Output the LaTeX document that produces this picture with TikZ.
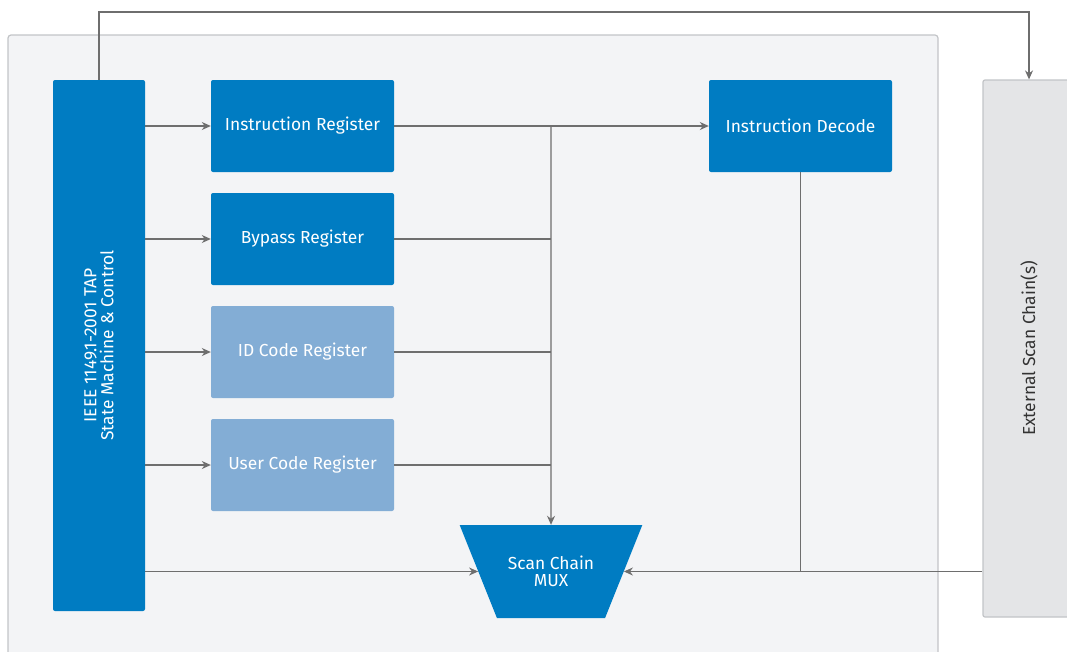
\documentclass[tikz,border=0pt]{standalone}
\usepackage{fontspec}
\setmainfont{Fira Sans}
\usepackage{tikz}
\usetikzlibrary{arrows.meta,shapes.geometric}
\definecolor{tapblue}{HTML}{007CC2}
\definecolor{regblue}{HTML}{83ADD5}
\definecolor{panelgray}{HTML}{F3F4F6}
\definecolor{panelline}{HTML}{C2C4C7}
\definecolor{extgray}{HTML}{E4E5E7}
\definecolor{wiregray}{HTML}{6E6E6E}

\begin{document}
\begin{tikzpicture}[x=1pt,y=-1pt,
    box/.style={fill=tapblue,rounded corners=2pt,text=white,font=\fontsize{17.4}{16.5}\selectfont,
      minimum width=183pt,minimum height=92pt,inner sep=0pt},
    litebox/.style={box,fill=regblue},
    wire/.style={draw=wiregray,line width=1.2pt},
    arr/.style={wire,-{Stealth[length=9pt,width=8pt]}}]
    \useasboundingbox (0,0) rectangle (1067,651);
    \clip (0,0) rectangle (1067,651);
    % background panel
    \draw[fill=panelgray,draw=panelline,line width=1.2pt,rounded corners=3pt] (8,35) rectangle (938,680);
    % blocks
    \node[box,minimum width=92pt,minimum height=531pt] (tap) at (99,345.5)
        {\rotatebox{90}{\shortstack{IEEE 1149.1-2001 TAP\\State Machine \& Control}}};
    \node[box] (ir) at (302.5,126) {Instruction Register};
    \node[box] (br) at (302.5,239) {Bypass Register};
    \node[litebox] (idr) at (302.5,352) {ID Code Register};
    \node[litebox] (ucr) at (302.5,465) {User Code Register};
    \node[box] (dec) at (800.5,126) {Instruction Decode};
    \node[box,fill=extgray,draw=panelline,line width=1.2pt,text=black!80,
        minimum width=92pt,minimum height=537pt] (ext) at (1029,348.5)
        {\rotatebox{90}{External Scan Chain(s)}};
    \node[trapezium,shape border rotate=180,trapezium angle=46,trapezium stretches=true,
        fill=tapblue,text=white,font=\fontsize{17.4}{17}\selectfont,align=center,
        minimum width=183pt,minimum height=93pt,inner sep=0pt] (mux) at (551,571.5)
        {Scan Chain\\MUX};
    % connections
    \coordinate (top) at (99,12);
    \coordinate (j) at (551,126);
    \draw[arr] (tap.north) -- (top) -| (ext.north);
    \draw[arr] (tap.east |- ir) -- (ir);
    \draw[arr] (tap.east |- br) -- (br);
    \draw[arr] (tap.east |- idr) -- (idr);
    \draw[arr] (tap.east |- ucr) -- (ucr);
    \draw[arr] (tap.east |- mux.west) -- (mux.west);
    \draw[arr] (ir) -- (dec);
    \draw[wire] (br) -- (j |- br);
    \draw[wire] (idr) -- (j |- idr);
    \draw[wire] (ucr) -- (j |- ucr);
    \draw[arr] (j) -- (mux.north);
    \draw[wire] (dec.south) -- (dec.south |- mux.east);
    \draw[arr] (ext.west |- mux.east) -- (mux.east);
\end{tikzpicture}
\end{document}
